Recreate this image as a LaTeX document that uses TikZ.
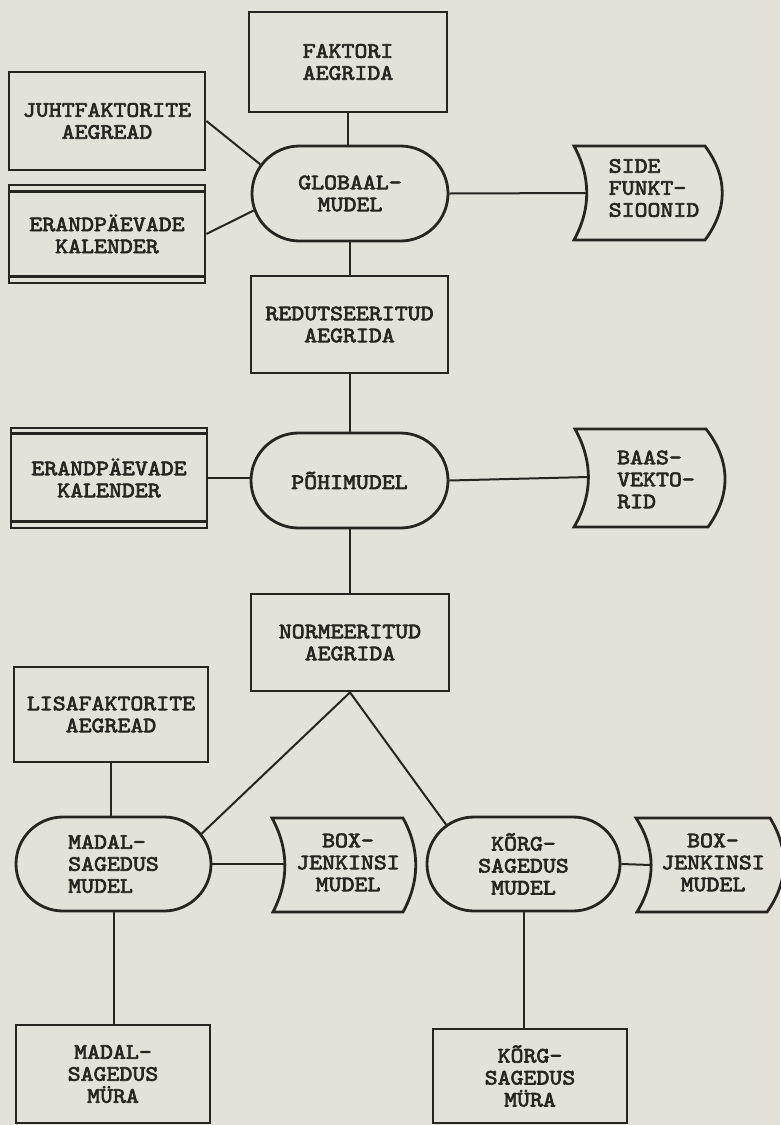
\documentclass[tikz,border=0pt]{standalone}
\usepackage{fontspec}
\newfontfamily\tw{lmmono10-regular}[Extension=.otf, FakeBold=3, FakeStretch=1.12]
\usetikzlibrary{shapes.misc}
\definecolor{paper}{RGB}{228,226,216}
\definecolor{ink}{RGB}{40,36,32}
\tikzset{
  lbl/.style={font=\tw\fontsize{22}{22}\selectfont, text=ink, align=center, inner sep=0pt},
  rbox/.style={lbl, draw=ink, line width=2.8pt},
  stad/.style={lbl, rounded rectangle, draw=ink, line width=2.8pt},
  outline/.style={draw=ink, line width=2.8pt, line join=miter},
  conn/.style={draw=ink, line width=2pt},
}
\begin{document}
\begin{tikzpicture}[x=1pt, y=-1pt]
\fill[paper] (0,0) rectangle (780,1125);
\useasboundingbox (0,0) rectangle (780,1125);

% top group
\node[rbox, minimum width=198pt, minimum height=100pt] (faktori) at (348,62) {FAKTORI\\AEGRIDA};
\node[rbox, minimum width=196pt, minimum height=98pt] (juht) at (107,121) {JUHTFAKTORITE\\AEGREAD};
\node[rbox, minimum width=196pt, minimum height=98pt] (erand1) at (107,234) {ERANDPÄEVADE\\KALENDER};
\draw[outline] ([yshift=-8pt]erand1.north west) -- ([yshift=-8pt]erand1.north east);
\draw[outline] ([yshift=8pt]erand1.south west) -- ([yshift=8pt]erand1.south east);
\node[stad, minimum width=196pt, minimum height=95pt] (glob) at (350,193.5) {GLOBAAL-\\MUDEL};
\node[lbl, align=left] (side) at (654,188) {SIDE\\FUNKT-\\SIOONID};
\draw[outline] (574,146) .. controls (591,177) and (591,209) .. (574,240) -- (705,240)
   .. controls (728,209) and (728,177) .. (705,146) -- cycle;
\coordinate (sideW) at (587,193);

% middle group
\node[rbox, minimum width=197pt, minimum height=97pt] (reduts) at (349.5,324.5) {REDUTSEERITUD\\AEGRIDA};
\node[rbox, minimum width=196pt, minimum height=100pt] (erand2) at (109,478) {ERANDPÄEVADE\\KALENDER};
\draw[outline] ([yshift=-7pt]erand2.north west) -- ([yshift=-7pt]erand2.north east);
\draw[outline] ([yshift=8pt]erand2.south west) -- ([yshift=8pt]erand2.south east);
\node[stad, minimum width=197pt, minimum height=95pt] (pohi) at (349.5,480.5) {PÕHIMUDEL};
\node[lbl, align=left] (baas) at (656,479.5) {BAAS-\\VEKTO-\\RID};
\draw[outline] (575,429) .. controls (593,461) and (593,495) .. (574,527) -- (708,527)
   .. controls (731,495) and (731,461) .. (706,429) -- cycle;
\coordinate (baasW) at (588,477);
\node[rbox, minimum width=198pt, minimum height=97pt] (norm) at (350,642.5) {NORMEERITUD\\AEGRIDA};

% lower group
\node[rbox, minimum width=194pt, minimum height=95pt] (lisa) at (111,714.5) {LISAFAKTORITE\\AEGREAD};
\node[stad, align=left, minimum width=195pt, minimum height=94pt] (madal) at (113.5,864) {MADAL-\\SAGEDUS\\MUDEL};
\node[lbl] (boxL) at (348,862.5) {BOX-\\JENKINSI\\MUDEL};
\draw[outline] (272,818) .. controls (289,849) and (289,881) .. (273,912) -- (403,912)
   .. controls (420,881) and (420,849) .. (403,818) -- cycle;
\coordinate (boxLW) at (285,864);
\node[stad, minimum width=193pt, minimum height=94pt] (korg) at (523.5,864) {KÕRG-\\SAGEDUS\\MUDEL};
\node[lbl] (boxR) at (713,862.5) {BOX-\\JENKINSI\\MUDEL};
\draw[outline] (636,818) .. controls (656,849) and (656,881) .. (637,912) -- (767,912)
   .. controls (789,881) and (789,849) .. (770,818) -- cycle;
\coordinate (boxRW) at (651,865);
\node[rbox, minimum width=194pt, minimum height=98pt] (madalm) at (113,1074) {MADAL-\\SAGEDUS\\MÜRA};
\node[rbox, minimum width=194pt, minimum height=94pt] (korgm) at (530,1076) {KÕRG-\\SAGEDUS\\MÜRA};

% connectors
\draw[conn] (faktori.south) -- (faktori.south |- glob.north);
\draw[conn] (juht.east) -- (glob.162);
\draw[conn] (erand1.east) -- (glob.190);
\draw[conn] (glob.east) -- (sideW);
\draw[conn] (glob.south) -- (glob.south |- reduts.north);
\draw[conn] (reduts.south) -- (reduts.south |- pohi.north);
\draw[conn] (erand2.east) -- (erand2.east -| pohi.west);
\draw[conn] (pohi.east) -- (baasW);
\draw[conn] (pohi.south) -- (pohi.south |- norm.north);
\draw[conn] (norm.south) -- (madal.19);
\draw[conn] (norm.south) -- (korg.153);
\draw[conn] (lisa.south) -- (lisa.south |- madal.north);
\draw[conn] (madal.east) -- (boxLW);
\draw[conn] (korg.east) -- (boxRW);
\draw[conn] (madal.south) -- (madal.south |- madalm.north);
\draw[conn] (korg.south) -- (korg.south |- korgm.north);
\end{tikzpicture}
\end{document}
